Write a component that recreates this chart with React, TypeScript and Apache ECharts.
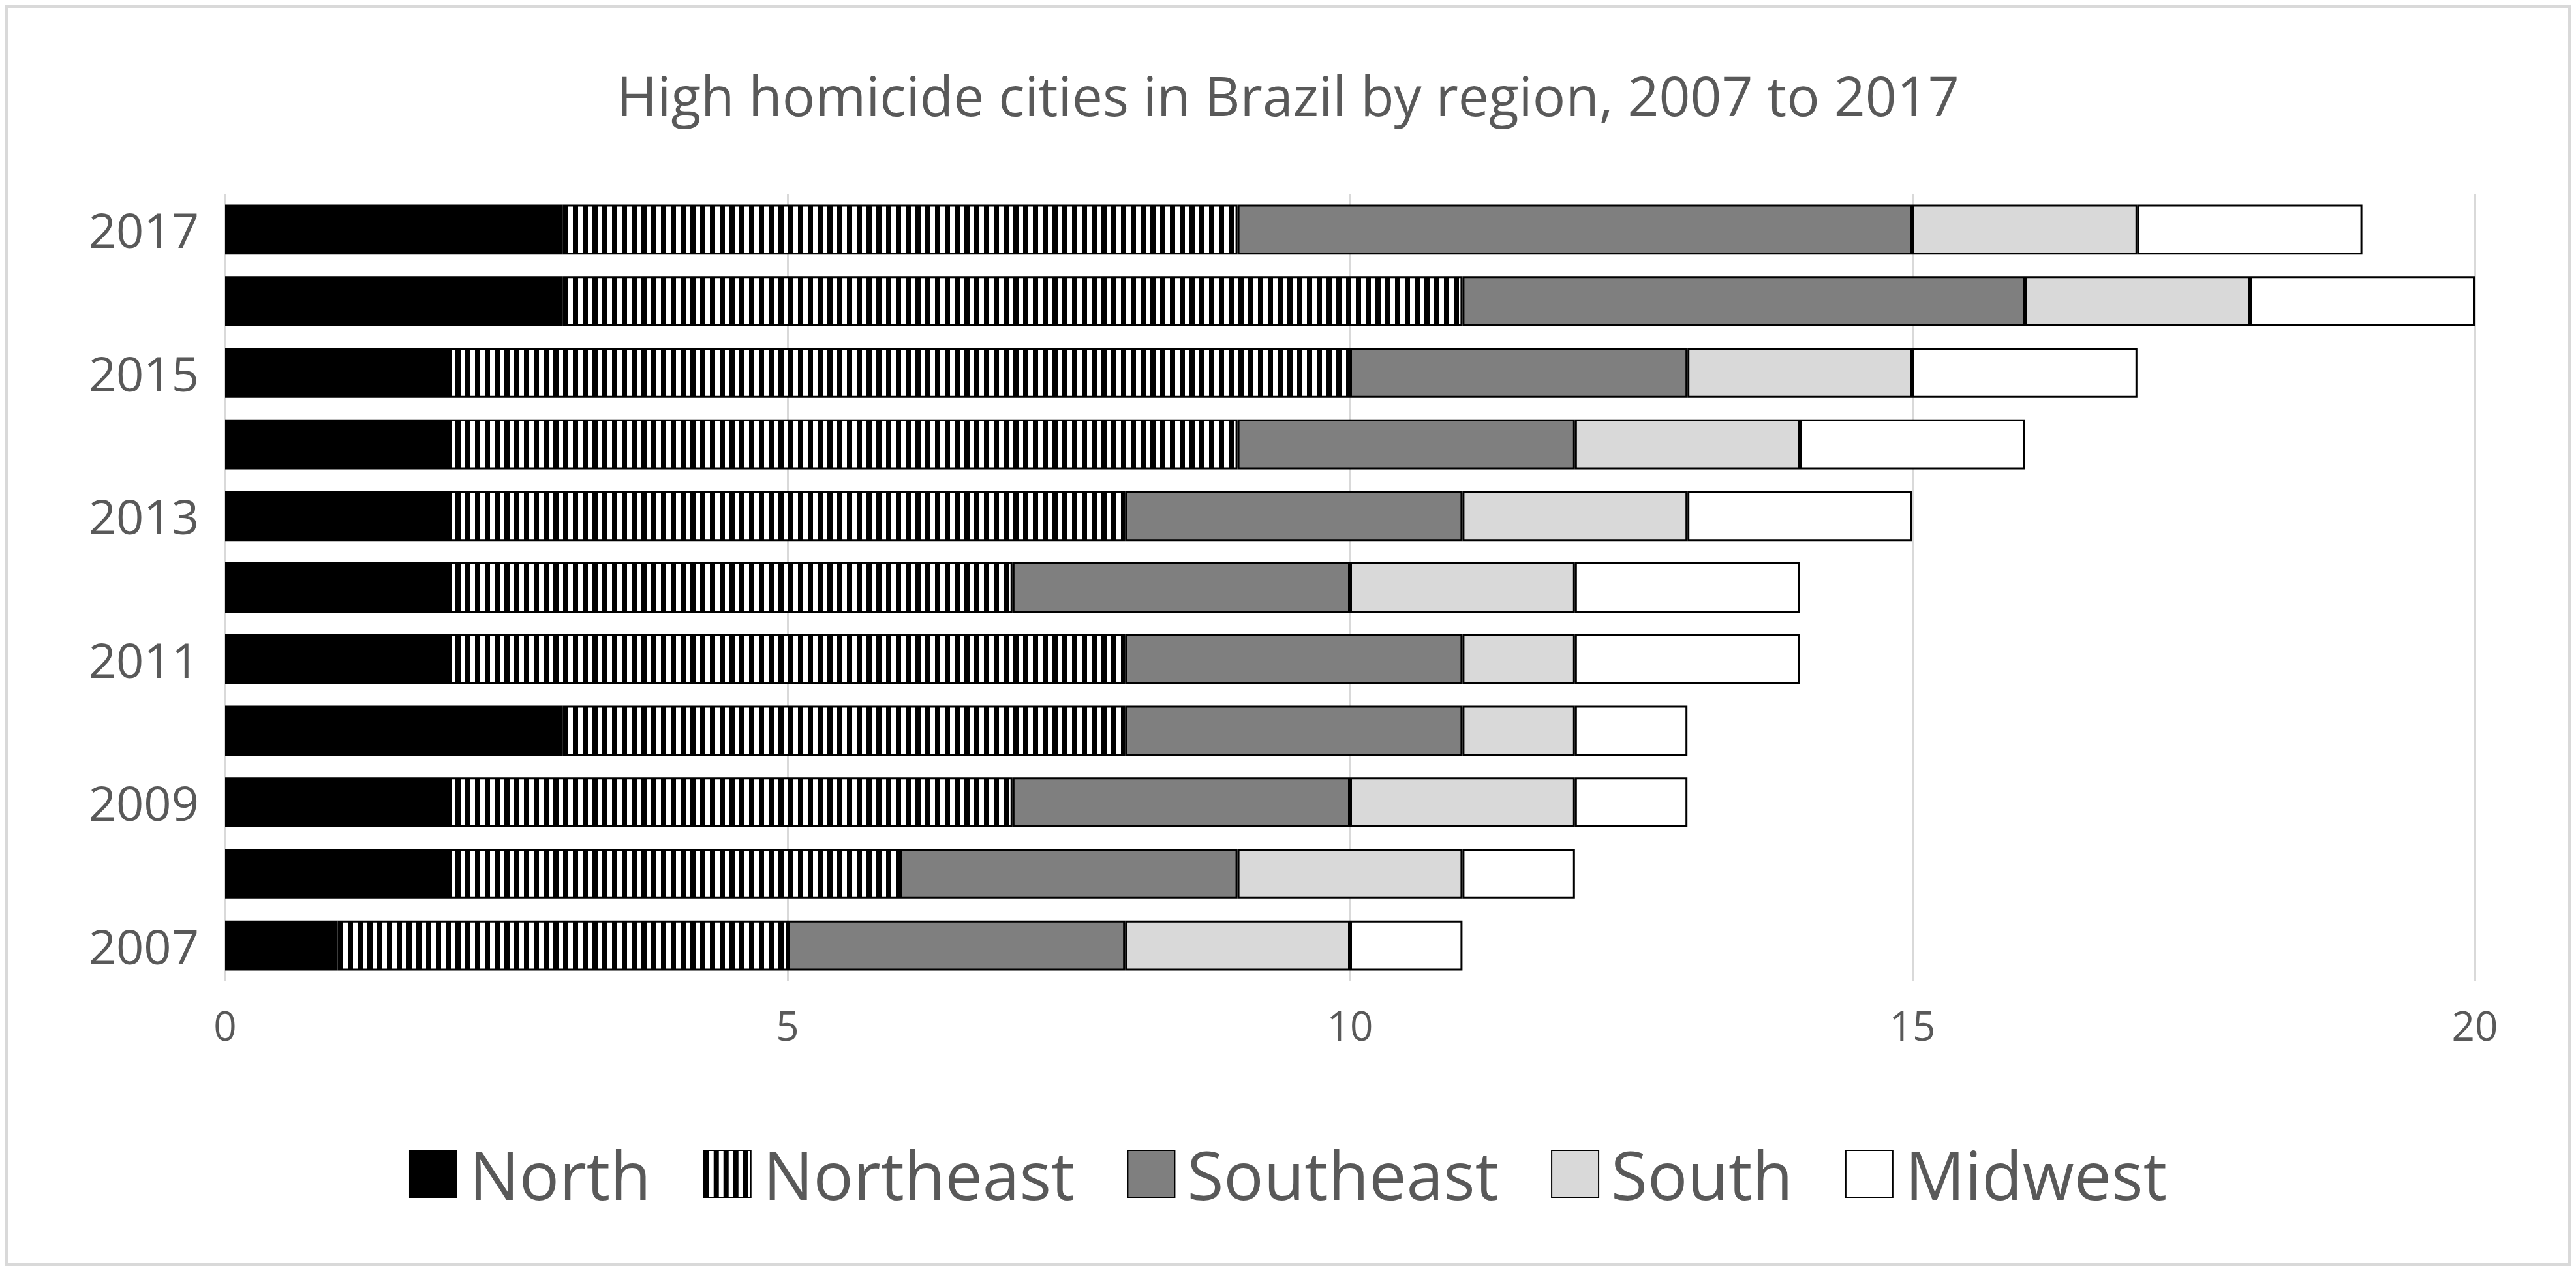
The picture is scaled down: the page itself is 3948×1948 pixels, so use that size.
import React, { useEffect, useRef } from "react";
import * as echarts from "echarts";

const years = ["2007", "2008", "2009", "2010", "2011", "2012", "2013", "2014", "2015", "2016", "2017"];
const north = [1, 2, 2, 3, 2, 2, 2, 2, 2, 3, 3];
const northeast = [4, 4, 5, 5, 6, 5, 6, 7, 8, 8, 6];
const southeast = [3, 3, 3, 3, 3, 3, 3, 3, 3, 5, 6];
const south = [2, 2, 2, 1, 1, 2, 2, 2, 2, 2, 2];
const midwest = [1, 1, 1, 1, 2, 2, 2, 2, 2, 2, 2];

const makeStripes = () => {
  const c = document.createElement("canvas");
  c.width = 15;
  c.height = 10;
  const ctx = c.getContext("2d")!;
  ctx.fillStyle = "#fff";
  ctx.fillRect(0, 0, 15, 10);
  ctx.fillStyle = "#000";
  ctx.fillRect(0, 0, 8, 10);
  return c;
};

const App = () => {
  const chartRef = useRef<HTMLDivElement>(null);

  useEffect(() => {
    if (!chartRef.current) return;
    const chart = echarts.init(chartRef.current, null, { renderer: "svg" });
    const font = "'Open Sans', 'Noto Sans', sans-serif";
    const stripes = { image: makeStripes(), repeat: "repeat" };
    const bar = (name: string, data: number[], color: any) => ({
      name,
      type: "bar",
      stack: "total",
      barWidth: "70%",
      data,
      itemStyle: { color, borderColor: "#000", borderWidth: 3 },
    });

    chart.setOption({
      animation: false,
      textStyle: { fontFamily: font },
      title: {
        text: "High homicide cities in Brazil by region, 2007 to 2017",
        left: "center",
        top: 90,
        textStyle: { fontSize: 84, fontWeight: "normal", color: "#595959", fontFamily: font },
      },
      graphic: [
        {
          type: "rect",
          shape: { x: 2, y: 2, width: 3928, height: 1928 },
          style: { fill: "none", stroke: "#d9d9d9", lineWidth: 4 },
        },
      ],
      grid: { left: 337, right: 147, top: 289, bottom: 436 },
      xAxis: {
        type: "value",
        min: 0,
        max: 20,
        interval: 5,
        axisLine: { show: false },
        axisTick: { show: false },
        splitLine: { lineStyle: { color: "#d9d9d9", width: 3 } },
        axisLabel: { fontSize: 62, color: "#595959", margin: 36 },
      },
      yAxis: {
        type: "category",
        data: years,
        axisLine: { show: false },
        axisTick: { show: false },
        axisLabel: { interval: 1, fontSize: 74, color: "#595959", margin: 40 },
      },
      legend: {
        bottom: 85,
        left: "center",
        icon: "rect",
        itemWidth: 72,
        itemHeight: 72,
        itemGap: 80,
        textStyle: { fontSize: 102, color: "#595959", padding: [0, 0, 0, 14] },
      },
      series: [
        bar("North", north, "#000"),
        bar("Northeast", northeast, stripes),
        bar("Southeast", southeast, "#7f7f7f"),
        bar("South", south, "#d9d9d9"),
        bar("Midwest", midwest, "#fff"),
      ],
    });

    return () => chart.dispose();
  }, []);

  return <div ref={chartRef} style={{ width: 3932, height: 1932 }} />;
};

export default App;
